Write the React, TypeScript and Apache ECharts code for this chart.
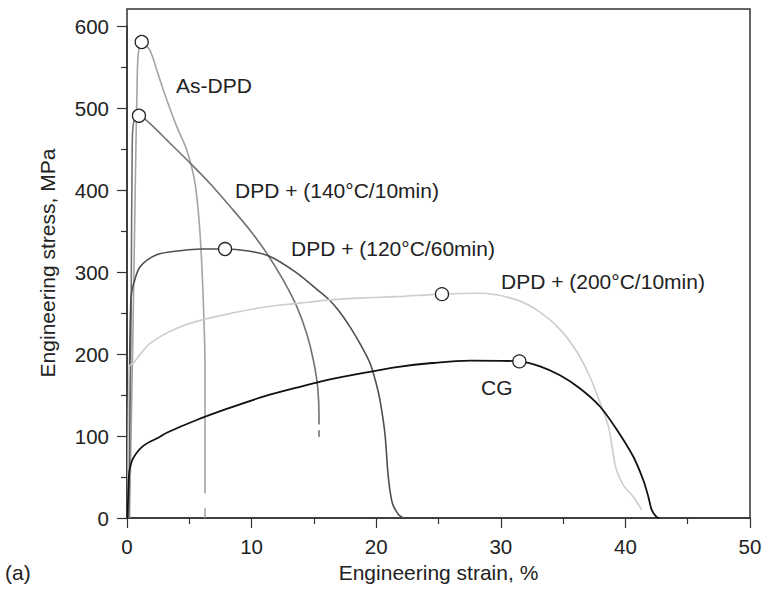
import React, { useEffect, useRef } from "react";
import * as echarts from "echarts";

// Engineering strain (%) vs engineering stress (MPa)
const asDpd: (number | string)[][] = [
  [0.2, 0], [0.45, 200], [0.68, 420], [0.8, 520], [0.9, 565], [1.18, 580.5],
  [1.85, 570], [2.5, 541], [3.19, 510], [4.0, 477], [4.79, 449], [5.46, 408],
  [5.86, 347], [6.12, 266], [6.26, 184], [6.26, 95], [6.26, 30], [6.26, "-"], [6.26, 12], [6.26, 0],
];
const dpd140: (number | string)[][] = [
  [0.15, 0], [0.33, 250], [0.42, 455], [0.55, 484], [0.96, 490.6],
  [1.85, 481], [3.45, 457], [5.06, 433], [6.66, 408], [8.27, 380], [9.87, 351],
  [11.21, 323], [12.54, 290], [13.62, 258], [14.42, 225], [14.95, 193], [15.3, 160],
  [15.41, 124], [15.41, 114], [15.41, "-"], [15.41, 107], [15.41, 99],
];
const dpd120: number[][] = [
  [0.1, 0], [0.22, 200], [0.3, 262], [0.38, 276], [0.5, 284], [1.04, 306],
  [2.38, 321], [4.25, 326], [6.0, 328], [7.87, 328], [9.6, 326], [11.48, 319],
  [13.62, 299], [15.22, 279], [16.3, 265], [17.09, 251], [17.9, 233], [18.8, 210],
  [19.5, 189], [20.0, 164], [20.3, 144], [20.7, 103], [20.97, 50], [21.3, 18], [21.8, 4], [22.17, 0],
];
const dpd200: number[][] = [
  [0.08, 0], [0.18, 185], [0.5, 189], [1.85, 213], [4.25, 233], [6.93, 245], [10.94, 257],
  [13.88, 262], [16.3, 266], [19.0, 268.5], [21.65, 270], [25.28, 273], [28.33, 274], [31.28, 266],
  [33.15, 251], [34.75, 230], [36.09, 203], [37.16, 172], [37.96, 141], [38.63, 112],
  [38.95, 85], [39.25, 60], [39.83, 40], [40.63, 26], [41.31, 10],
];
const cg: number[][] = [
  [0.05, 0], [0.12, 40], [0.2, 58], [0.5, 73], [1.31, 88], [2.65, 99], [3.19, 104],
  [5.59, 119.5], [8.0, 133], [10.94, 148], [13.88, 160], [16.3, 169], [19.0, 177], [21.65, 184],
  [24.5, 189], [27.53, 192], [31.49, 191], [33.15, 185], [34.75, 174], [36.36, 158],
  [37.96, 136], [39.3, 108], [40.63, 75], [41.44, 46], [41.84, 26], [42.11, 10], [42.51, 1], [42.7, 0],
];
const peaks: number[][] = [
  [1.18, 580.5], [0.96, 490.6], [7.87, 328], [25.28, 273], [31.49, 191],
];
const seriesNames = ["As-DPD", "DPD + (140°C/10min)", "DPD + (120°C/60min)", "DPD + (200°C/10min)", "CG"];
const seriesColors = ["#a4a4a4", "#727272", "#4f4f4f", "#cdcdcd", "#111111"];

const FONT = "'Liberation Sans', Arial, Helvetica, sans-serif";

export default function App() {
  const ref = useRef<HTMLDivElement>(null);
  useEffect(() => {
    if (!ref.current) return;
    const chart = echarts.init(ref.current, null, { renderer: "svg" });
    const datasets = [asDpd, dpd140, dpd120, dpd200, cg];
    const textStyle = { fill: "#222", font: `21px ${FONT}` };
    chart.setOption({
      animation: false,
      backgroundColor: "#fff",
      grid: { left: 127, right: 15, top: 26, bottom: 71, containLabel: false },
      xAxis: {
        type: "value",
        min: 0,
        max: 50,
        interval: 10,
        name: "Engineering strain, %",
        nameLocation: "middle",
        nameGap: 42,
        nameTextStyle: { fontFamily: FONT, fontSize: 21, color: "#222" },
        axisLine: { show: true, lineStyle: { color: "#333", width: 1.5 } },
        axisTick: { show: true, inside: false, length: 10, lineStyle: { color: "#333", width: 1.2 } },
        minorTick: { show: true, splitNumber: 2, length: 6, lineStyle: { color: "#333", width: 1.2 } },
        axisLabel: { margin: 18, fontFamily: FONT, fontSize: 20.5, color: "#222" },
        splitLine: { show: false },
      },
      yAxis: {
        type: "value",
        min: 0,
        max: 600,
        interval: 100,
        axisLine: { show: true, lineStyle: { color: "#333", width: 1.5 } },
        axisTick: { show: true, inside: false, length: 10, lineStyle: { color: "#333", width: 1.2 } },
        minorTick: { show: true, splitNumber: 2, length: 6, lineStyle: { color: "#333", width: 1.2 } },
        axisLabel: { margin: 18, fontFamily: FONT, fontSize: 20.5, color: "#222" },
        splitLine: { show: false },
      },
      series: [
        ...datasets.map((d, i) => ({
          name: seriesNames[i],
          type: "line",
          data: d,
          smooth: 0.3,
          showSymbol: false,
          symbol: "none",
          connectNulls: false,
          lineStyle: { color: seriesColors[i], width: i === 4 ? 1.8 : 1.6 },
          z: i === 4 ? 4 : 3,
        })),
        {
          name: "peaks",
          type: "scatter",
          data: peaks,
          symbol: "circle",
          symbolSize: 13,
          itemStyle: { color: "#fff", borderColor: "#222", borderWidth: 1.3, opacity: 1 },
          z: 10,
        },
      ],
      graphic: [
        {
          type: "rect",
          shape: { x: 127, y: 9, width: 623, height: 509 },
          style: { fill: "none", stroke: "#333", lineWidth: 1.5 },
          silent: true,
          z: 1,
        },
        {
          type: "text",
          x: 47,
          y: 263,
          rotation: Math.PI / 2,
          style: { text: "Engineering stress, MPa", ...textStyle, align: "center", verticalAlign: "middle" },
        },
        { type: "text", x: 5, y: 572, style: { text: "(a)", ...textStyle, verticalAlign: "middle" } },
        { type: "text", x: 176, y: 85, style: { text: "As-DPD", ...textStyle, verticalAlign: "middle" } },
        { type: "text", x: 235, y: 190, style: { text: "DPD + (140°C/10min)", ...textStyle, verticalAlign: "middle" } },
        { type: "text", x: 291, y: 248, style: { text: "DPD + (120°C/60min)", ...textStyle, verticalAlign: "middle" } },
        { type: "text", x: 501, y: 281, style: { text: "DPD + (200°C/10min)", ...textStyle, verticalAlign: "middle" } },
        { type: "text", x: 481, y: 387, style: { text: "CG", ...textStyle, verticalAlign: "middle" } },
      ],
    });
    return () => chart.dispose();
  }, []);
  return (
    <div
      ref={ref}
      style={{ position: "absolute", left: 0, top: 0, width: 765, height: 589 }}
    />
  );
}
